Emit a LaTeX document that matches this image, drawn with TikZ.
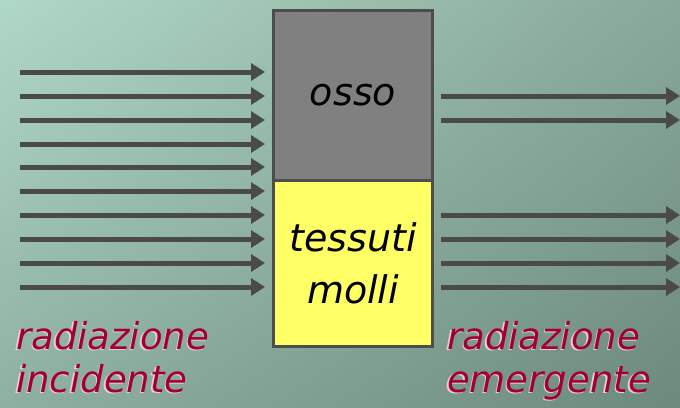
\documentclass[tikz,border=0pt]{standalone}
\usepackage{fontspec}
\setmainfont{DejaVu Sans}
\usetikzlibrary{arrows.meta,shadings}
\definecolor{bgA}{RGB}{176,216,198}
\definecolor{bgB}{RGB}{136,168,153}
\definecolor{bgC}{RGB}{142,176,161}
\definecolor{bgD}{RGB}{108,138,124}
\definecolor{raggio}{RGB}{74,74,74}
\definecolor{bordo}{RGB}{77,77,77}
\definecolor{osso}{RGB}{128,128,128}
\definecolor{molle}{RGB}{255,255,102}
\definecolor{scritta}{RGB}{160,0,52}
\newcommand\rilievo[1]{\makebox[0pt][l]{\kern-1.3pt\raisebox{-1.3pt}{\color{white!80!scritta}#1}}#1}
\tikzset{
  raggio/.style={draw=raggio, line width=5pt, -{Triangle[length=14pt,width=17pt]}},
  strato/.style={draw=bordo, line width=3pt, inner sep=0pt, outer sep=0pt, minimum width=159pt,
    font=\itshape\fontsize{38}{52}\selectfont, align=center},
  didascalia/.style={text=scritta, inner sep=0pt, align=left,
    font=\itshape\fontsize{37}{43}\selectfont}
}
\begin{document}
\begin{tikzpicture}[x=1pt,y=-1pt]
\shade[upper left=bgA, upper right=bgB, lower left=bgC, lower right=bgD] (0,0) rectangle (680,407);
\useasboundingbox (0,0) rectangle (680,407);
% materiale
\node[strato, fill=osso, minimum height=169.5pt, anchor=north] (osso) at (353,10.5){osso};
\node[strato, fill=molle, minimum height=166.5pt, anchor=north] (tessuti) at (osso.south){tessuti\\molli};
\draw[draw=bordo, line width=3pt] (273.5,10.5) rectangle (432.5,346.5);
% radiazione incidente
\coordinate (in1) at (20,72);   \coordinate (su1) at (265,72);
\coordinate (in2) at (20,96);   \coordinate (su2) at (265,96);
\coordinate (in3) at (20,120);  \coordinate (su3) at (265,120);
\coordinate (in4) at (20,144);  \coordinate (su4) at (265,144);
\coordinate (in5) at (20,167);  \coordinate (su5) at (265,167);
\coordinate (in6) at (20,191);  \coordinate (su6) at (265,191);
\coordinate (in7) at (20,215);  \coordinate (su7) at (265,215);
\coordinate (in8) at (20,239);  \coordinate (su8) at (265,239);
\coordinate (in9) at (20,263);  \coordinate (su9) at (265,263);
\coordinate (in10) at (20,287); \coordinate (su10) at (265,287);
\draw[raggio] (in1) -- (su1);
\draw[raggio] (in2) -- (su2);
\draw[raggio] (in3) -- (su3);
\draw[raggio] (in4) -- (su4);
\draw[raggio] (in5) -- (su5);
\draw[raggio] (in6) -- (su6);
\draw[raggio] (in7) -- (su7);
\draw[raggio] (in8) -- (su8);
\draw[raggio] (in9) -- (su9);
\draw[raggio] (in10) -- (su10);
% radiazione emergente
\coordinate (out2) at (441,96);   \coordinate (fine2) at (680,96);
\coordinate (out3) at (441,120);  \coordinate (fine3) at (680,120);
\coordinate (out7) at (441,215);  \coordinate (fine7) at (680,215);
\coordinate (out8) at (441,239);  \coordinate (fine8) at (680,239);
\coordinate (out9) at (441,263);  \coordinate (fine9) at (680,263);
\coordinate (out10) at (441,287); \coordinate (fine10) at (680,287);
\draw[raggio] (out2) -- (fine2);
\draw[raggio] (out3) -- (fine3);
\draw[raggio] (out7) -- (fine7);
\draw[raggio] (out8) -- (fine8);
\draw[raggio] (out9) -- (fine9);
\draw[raggio] (out10) -- (fine10);
% didascalie
\node[didascalia, anchor=base west] (incidente) at (16,392){\rilievo{radiazione}\\\rilievo{incidente}};
\node[didascalia, anchor=base west] (emergente) at (447,392){\rilievo{radiazione}\\\rilievo{emergente}};
\end{tikzpicture}
\end{document}
